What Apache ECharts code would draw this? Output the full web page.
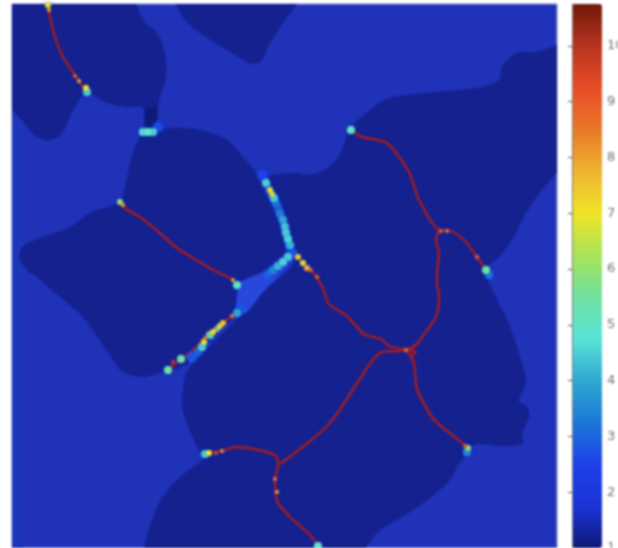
<!DOCTYPE html>
<html lang="en">
	<head>
		<meta charset="UTF-8" />
		<title>Crack field</title>
		<style>
			html, body { margin: 0; background: #fff; overflow: hidden; }
			#chart { width: 618px; height: 548px; filter: blur(0.8px); }
		</style>
	</head>
	<body>
		<div id="chart"></div>
		<script src="https://cdn.jsdelivr.net/npm/echarts@6/dist/echarts.min.js"></script>
		<script>
			// colour scale and tick labels
			const scaleColors = ["#101a78", "#1a34d8", "#1e40e8", "#1a78d8", "#30a8d0", "#58e4d8", "#70e0a0", "#a8e458", "#f0e428", "#eeb430", "#e87828", "#e84c28", "#b83420", "#701808"];
			const tickValues = [1, 2, 3, 4, 5, 6, 7, 8, 9, 10];

			// grains, as outlines in field coordinates (edge points run past the frame, it clips them)
			const grainTopLeft = [[128,-10],[143,20],[157,33],[165,53],[166,77],[160,97],[157,113],[155,125],[145,127],[143,108],[127,107],[107,103],[93,95],[83,95],[72,113],[62,133],[50,140],[37,137],[23,122],[0,95],[-20,60],[-20,-20],[60,-20]];
			const grainTopMid = [[172,-15],[183,17],[200,33],[227,50],[240,58],[248,63],[260,62],[270,43],[283,23],[305,-15],[240,-30]];
			const grainLeft = [[144,133],[173,128],[200,130],[227,140],[243,157],[258,175],[264,182],[270,195],[280,213],[287,240],[290,250],[283,260],[262,272],[240,283],[236,300],[236,314],[212,338],[190,362],[170,371],[157,374],[143,377],[123,372],[107,351],[83,317],[60,297],[33,274],[30,273],[20,260],[22,247],[43,237],[70,227],[90,213],[113,205],[122,197],[127,177],[133,153]];
			const grainBig = [[349,130],[366,113],[389,98],[426,93],[476,88],[499,80],[502,67],[516,53],[536,52],[580,42],[620,100],[580,150],[557,173],[542,190],[526,213],[512,240],[499,257],[486,270],[496,297],[509,324],[519,354],[526,381],[519,401],[527,407],[529,417],[522,434],[522,444],[499,446],[479,444],[469,447],[466,454],[459,464],[449,481],[426,501],[402,517],[379,531],[360,556],[340,580],[200,590],[146,556],[153,517],[167,491],[187,471],[203,459],[197,447],[187,424],[182,404],[185,377],[190,367],[238,318],[247,310],[263,292],[294,262],[287,240],[280,215],[272,195],[266,178],[293,173],[309,175],[329,167],[342,150]];
			const leftStrip = [[12,4],[23,4],[23,548],[12,548]];
			const neck = [[146,108],[157,108],[155,127],[146,127]];
			const channel = [[294,256],[262,273],[240,283],[237,300],[235,316],[247,312],[263,292],[288,266]];

			// wider blue bands under the hot spots
			const bandUpper = [[264,178],[270,192],[278,208],[285,228],[290,250]];
			const bandBranch = [[290,255],[275,268],[263,278]];
			const bandLower = [[188,360],[197,352],[206,340]];

			// thin cracks
			const crackTopLeft = [[48,5],[50,17],[55,37],[63,57],[75,75],[83,87]];
			const crackLeft = [[120,202],[123,207],[140,217],[160,233],[177,248],[193,258],[217,272],[230,278],[235,283]];
			const crackUpperRight = [[351,130],[362,137],[387,143],[409,172],[419,200],[439,230],[451,231],[466,242],[477,257],[486,270]];
			const crackRightDown = [[439,230],[436,240],[439,253],[437,273],[437,286],[439,294],[436,317],[424,334],[417,344],[411,349],[406,350]];
			const crackCentre = [[298,257],[307,268],[316,276],[324,291],[329,304],[347,316],[364,334],[381,339],[389,346],[404,349]];
			const crackDiagonal = [[404,351],[382,352],[372,361],[352,391],[339,411],[326,427],[309,442],[280,464]];
			const crackLowerRight = [[406,350],[409,354],[414,364],[417,389],[432,417],[441,426],[466,446]];
			const crackKnot = [[417,344],[408,350],[416,352],[411,356],[414,361]];
			const crackBottom = [[203,454],[222,451],[237,447],[263,451],[277,457],[278,466],[275,479],[277,501],[290,517],[309,534],[318,545]];
			const crackChannel = [[168,370],[181,359],[192,351],[205,338],[217,329],[232,316]];

			// spots along the cracks: x, y, value
			const hotSpots = [
				[48,5,7],[49,10,8],[75,76,9],[79,81,8],[86,88,7],[87,92,4.5],
				[143,132,4.8],[148,132,5],[153,132,4.6],[158,127,2.6],
				[120,202,6],[123,205,8],
				[262,175,2.5],[266,183,4.5],[270,190,7.2],[272,194,6.8],[274,198,4.5],[276,203,3.2],[278,208,3],[280,214,3.4],[283,220,4],[285,227,4.4],[286,233,4.5],[288,239,4.5],[290,245,4.2],[292,253,2.8],[288,257,4.5],
				[298,257,7.5],[303,263,7],[307,268,7.8],[311,270,9],[317,277,9],
				[283,262,4.5],[278,266,4.2],[273,270,3.5],[268,274,3],
				[233,280,8],[237,285,5],[237,313,4],[241,309,2.8],
				[232,316,8.5],[223,323,7.5],[220,326,7],[217,329,6],[213,332,7.2],[210,335,5.5],[205,338,8.5],[204,342,7],[202,347,4.5],[198,352,3],[192,357,2.8],[181,359,5.5],[173,362,9.8],[168,370,5.5],
				[351,130,5],
				[441,231,9],[447,231,8.5],[477,257,9],[486,270,5.5],[489,275,3.3],
				[406,350,8.5],[275,479,8.6],[277,492,8],
				[468,448,6],[467,452,3.6],[465,446,9],
				[205,454,4.5],[209,453,7],[222,451,8.2],[216,453,9.5],
				[318,546,5]
			];

			// cooler spots have a wider halo, so they go underneath
			const hotSpotsSorted = hotSpots.slice().sort(function (a, b) {
				return a[2] - b[2];
			});
			const bands = [bandUpper, bandBranch, bandLower];
			const cracks = [crackTopLeft, crackLeft, crackUpperRight, crackRightDown, crackCentre, crackDiagonal, crackLowerRight, crackKnot, crackBottom, crackChannel];

			function polygonSeries(outlines, color, smooth) {
				return {
					type: "custom",
					coordinateSystem: "cartesian2d",
					xAxisIndex: 0,
					yAxisIndex: 0,
					clip: true,
					silent: true,
					data: outlines.map(function (o, i) {
						return [i, 0];
					}),
					encode: { x: 0, y: 1 },
					renderItem: function (params, api) {
						let outline = outlines[api.value(0)];
						return {
							type: "polygon",
							shape: {
								smooth: smooth,
								points: outline.map(function (p) {
									return api.coord(p);
								}),
							},
							style: { fill: color },
						};
					},
				};
			}

			function lineSeries(points, color, width) {
				return {
					type: "line",
					xAxisIndex: 0,
					yAxisIndex: 0,
					data: points,
					showSymbol: false,
					silent: true,
					smooth: 0.25,
					lineStyle: { color: color, width: width },
				};
			}

			let series = [
				polygonSeries([leftStrip], "#1b37b8", 0),
				polygonSeries([grainTopLeft, grainTopMid, grainLeft, grainBig], "#14218f", 0.3),
				polygonSeries([neck], "#0e1a78", 0.3),
				polygonSeries([channel], "#2848dc", 0.3),
			];
			bands.forEach(function (band) {
				series.push(lineSeries(band, "#2450e4", 8));
			});
			cracks.forEach(function (crack) {
				series.push(lineSeries(crack, "#a81c1e", 2.4));
			});
			series.push({
				type: "scatter",
				xAxisIndex: 0,
				yAxisIndex: 0,
				z: 6,
				data: hotSpotsSorted,
				silent: true,
				symbolSize: function (v) {
					if (v[2] < 3) return 10;
					if (v[2] < 6) return 8;
					if (v[2] < 8) return 6;
					return 4;
				},
				itemStyle: { opacity: 1, shadowBlur: 4, shadowColor: "rgba(30,70,225,0.6)" },
			});

			let chart = echarts.init(document.getElementById("chart"));
			chart.setOption({
				animation: false,
				grid: [
					{ left: 12, top: 4, width: 545, height: 544, show: true, backgroundColor: "#1f32b8", borderColor: "#8f8fc8", borderWidth: 1, outerBoundsMode: "none" },
					{ left: 572, top: 4, width: 30, height: 544, outerBoundsMode: "none" },
				],
				xAxis: [
					{ type: "value", gridIndex: 0, min: 12, max: 557, show: false },
					{ type: "value", gridIndex: 1, min: 0, max: 1, show: false },
				],
				yAxis: [
					{ type: "value", gridIndex: 0, min: 4, max: 548, inverse: true, show: false },
					{
						type: "value",
						gridIndex: 1,
						position: "right",
						min: 1,
						max: 10.75,
						interval: 1,
						z: 5,
						splitLine: { show: false },
						axisLine: { show: true, lineStyle: { color: "#77777c" } },
						axisTick: { show: true, inside: true, length: 4, lineStyle: { color: "#55504c" } },
						axisLabel: {
							color: "#707070",
							fontFamily: "DejaVu Sans",
							fontSize: 13,
							margin: 5,
							showMaxLabel: false,
							formatter: function (v) {
								return tickValues.indexOf(v) >= 0 ? String(v) : "";
							},
						},
					},
				],
				visualMap: {
					type: "continuous",
					seriesIndex: series.length - 1,
					dimension: 2,
					min: 1,
					max: 10.75,
					left: 572,
					top: 4,
					padding: 0,
					itemWidth: 30,
					itemHeight: 544,
					calculable: false,
					realtime: false,
					showLabel: false,
					text: ["", ""],
					inRange: { color: scaleColors },
					z: 1,
				},
				series: series,
			});
		</script>
	</body>
</html>
